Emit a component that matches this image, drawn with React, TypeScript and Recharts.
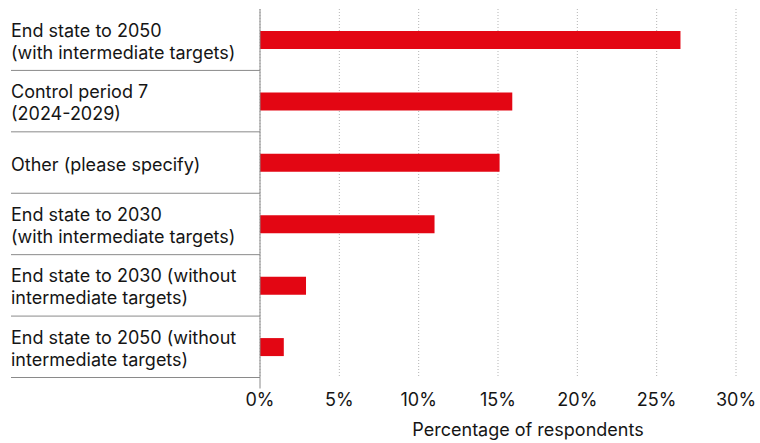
import React from "react";
import {
  BarChart,
  Bar,
  XAxis,
  YAxis,
  CartesianGrid,
} from "recharts";

// categories (top to bottom), "\n" marks a line break in the label
const categories = [
  "End state to 2050\n(with intermediate targets)",
  "Control period 7\n(2024-2029)",
  "Other (please specify)",
  "End state to 2030\n(with intermediate targets)",
  "End state to 2030 (without\nintermediate targets)",
  "End state to 2050 (without\nintermediate targets)",
];

// percentage of respondents
const values = [26.5, 15.9, 15.1, 11.0, 2.9, 1.5];

const xTicks = [0, 5, 10, 15, 20, 25, 30];

const data = categories.map((name, i) => ({ name, value: values[i] }));

const FONT = "Inter, 'Noto Sans', sans-serif";
const RED = "#e30613";
const GREY = "#8a8a8a";
const INK = "#151515";

const WIDTH = 760;
const HEIGHT = 443;
const MARGIN = { top: 9, right: 24, bottom: 0, left: 0 };
const X_AXIS_H = 65.5;
const Y_AXIS_W = 260;
const BAND = (HEIGHT - MARGIN.top - MARGIN.bottom - X_AXIS_H) / categories.length;

const CategoryTick = (props: any) => {
  const { y, payload, index } = props;
  const lines = String(payload.value).split("\n");
  const n = lines.length;
  const bottom = y + BAND / 2;
  return (
    <g>
      {lines.map((line: string, i: number) => (
        <text
          key={i}
          x={11}
          y={y + 8 + (i - (n - 1) / 2) * 22}
          textAnchor="start"
          fontFamily={FONT}
          fontSize={18}
          fill={INK}
        >
          {line}
        </text>
      ))}
      <line x1={11} x2={Y_AXIS_W} y1={bottom} y2={bottom} stroke={GREY} strokeWidth={1} />
      {index === categories.length - 1 && (
        <line x1={Y_AXIS_W} x2={Y_AXIS_W} y1={bottom} y2={bottom + 11} stroke={GREY} strokeWidth={1} />
      )}
    </g>
  );
};

const AxisTitle = (props: any) => {
  const { viewBox } = props;
  const cx = viewBox.x + viewBox.width / 2 + 30;
  return (
    <text
      x={cx}
      y={436}
      textAnchor="middle"
      fontFamily={FONT}
      fontSize={18}
      fill={INK}
    >
      Percentage of respondents
    </text>
  );
};

export default function App() {
  return (
    <div style={{ position: "absolute", left: 0, top: 0, background: "#fff" }}>
      <BarChart
        width={WIDTH}
        height={HEIGHT}
        data={data}
        layout="vertical"
        margin={MARGIN}
      >
        <CartesianGrid
          horizontal={false}
          stroke="#b5b5b5"
          strokeDasharray="1 2"
        />
        <XAxis
          type="number"
          domain={[0, 30]}
          ticks={xTicks}
          tickFormatter={(v: number) => `${v}%`}
          axisLine={false}
          tickLine={false}
          tickSize={0}
          tickMargin={16}
          height={X_AXIS_H}
          tick={{ fontFamily: FONT, fontSize: 18, fill: INK }}
          interval={0}
          label={{ content: AxisTitle }}
        />
        <YAxis
          type="category"
          dataKey="name"
          width={Y_AXIS_W}
          axisLine={{ stroke: GREY, strokeWidth: 1 }}
          tickLine={false}
          tick={<CategoryTick />}
          interval={0}
        />
        <Bar dataKey="value" fill={RED} barSize={18} isAnimationActive={false} />
      </BarChart>
    </div>
  );
}
